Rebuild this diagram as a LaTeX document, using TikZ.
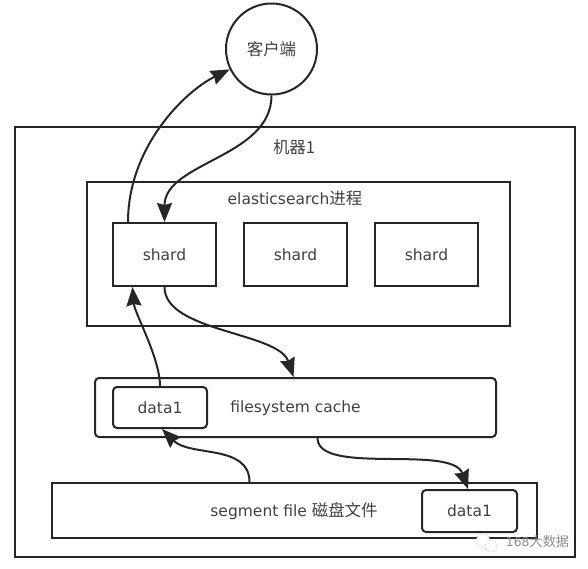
\documentclass[tikz,border=0pt]{standalone}
\usepackage{fontspec}
\setmainfont{DejaVu Sans}
\newfontfamily\cjk[Scale=1.06]{Noto Sans CJK SC}
\usetikzlibrary{arrows.meta,positioning}

\begin{document}
\begin{tikzpicture}[
  x=1pt, y=-1pt,
  font=\fontsize{15.5}{18}\selectfont,
  text=black!75,
  box/.style={draw=black!85, line width=2pt, minimum width=#1, align=center},
  box/.default=103pt,
  shardbox/.style={box, minimum height=63pt},
  roundbox/.style={box=#1, rounded corners=4pt},
  arrow/.style={-{Stealth[length=19pt,width=15pt,inset=2pt]}, line width=2pt, draw=black!85},
  plain/.style={inner sep=0pt},
  stamp/.style={inner sep=0pt, text=black!45, font=\fontsize{12.4}{15}\selectfont}
]
\useasboundingbox (0,0) rectangle (588,568);

% outer boxes
\node[box=560pt, minimum height=430pt] (machine) at (295,342) {};
\node[box=423pt, minimum height=144pt] (process) at (298.5,254) {};
\node[roundbox=401pt, minimum height=59pt] (cache) at (295.5,407.5) {};
\node[box=485pt, minimum height=55pt] (segment) at (294.5,510.5) {};

% shards
\node[shardbox] (shardA) at (164.5,254.5) {shard};
\node[shardbox, right=26pt of shardA] (shardB) {shard};
\node[shardbox, right=26pt of shardB] (shardC) {shard};

% data blocks
\node[roundbox=94pt, minimum height=41pt] (dataA) at (160,407.5) {data1};
\node[roundbox=95pt, minimum height=42pt] (dataB) at (469.5,511) {data1};

\node[draw=black!85, line width=2pt, circle, minimum size=91pt, inner sep=0pt] (client) at (271.5,49)
  {\cjk 客户端};

% texts
\node[plain] (machinetext) at (294,147) {\cjk 机器1};
\node[plain] (processtext) at (295,198) {elasticsearch{\cjk 进程}};
\node[plain] (cachetext) at (295.5,408) {filesystem cache};
\node[plain] (segmenttext) at (294,511) {segment file {\cjk 磁盘文件}};

% read path
\draw[arrow] ([xshift=-36.5pt]shardA.north) .. controls +(0,-75) and +(-45,22) .. (client.206);
\draw[arrow] (client.south) .. controls +(0,62) and +(0,-60) .. (shardA.north);
\draw[arrow] (shardA.south) .. controls +(0,45) and +(-15,-45) .. ([xshift=-2pt]cache.north);
\draw[arrow] (dataA.north) .. controls +(0,-28) and +(2,26) .. ([xshift=-32pt]shardA.south);
\draw[arrow] ([xshift=-45pt]segment.north) .. controls +(0,-38) and +(28,28) .. ([xshift=2pt]dataA.south);
\draw[arrow] ([xshift=22pt]cache.south) .. controls +(0,38) and +(-16,-45) .. ([xshift=-1.5pt]dataB.north);

% watermark
\node[stamp] (stamptext) at (537.5,542) {168{\cjk 大数据}};
\node[draw=black!40, densely dotted, fill=white, circle, minimum size=14pt, inner sep=0pt] (stampA) at (483,541) {};
\node[draw=black!40, densely dotted, fill=white, circle, minimum size=12pt, inner sep=0pt] (stampB) at (491,546) {};
\end{tikzpicture}
\end{document}
